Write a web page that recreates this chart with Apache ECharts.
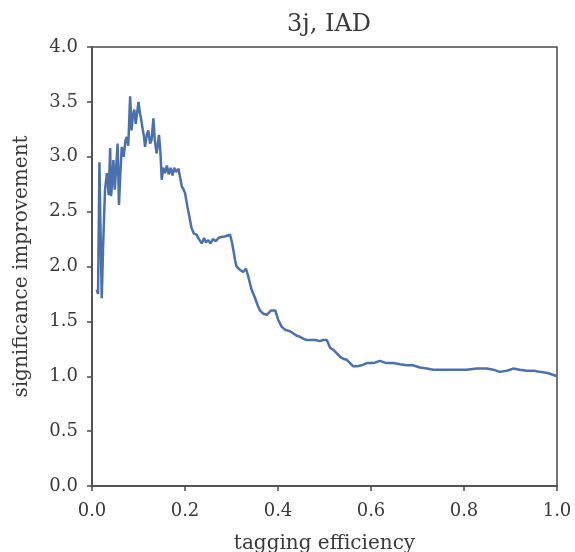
<!DOCTYPE html>
<html>
<head>
<meta charset="utf-8">
<script src="https://cdn.jsdelivr.net/npm/echarts@6/dist/echarts.min.js"></script>
<style>html,body{margin:0;padding:0;background:#fff}#c{width:575px;height:552px}</style>
</head>
<body>
<div id="c"></div>
<script>
const titleText = "3j, IAD";
const xLabel = "tagging efficiency";
const yLabel = "significance improvement";
const xTicks = [0.0, 0.2, 0.4, 0.6, 0.8, 1.0];
const yTicks = [0.0, 0.5, 1.0, 1.5, 2.0, 2.5, 3.0, 3.5, 4.0];
const effX = [0.010,0.013,0.016,0.018,0.021,0.024,0.028,0.032,0.036,0.039,0.041,0.044,0.046,0.049,0.052,0.055,0.058,0.061,0.064,0.068,0.072,0.075,0.078,0.082,0.085,0.088,0.091,0.094,0.096,0.100,0.103,0.105,0.109,0.112,0.114,0.118,0.121,0.125,0.128,0.132,0.135,0.139,0.144,0.147,0.150,0.153,0.157,0.161,0.165,0.169,0.173,0.177,0.181,0.186,0.190,0.193,0.197,0.200,0.205,0.211,0.214,0.219,0.225,0.230,0.236,0.241,0.245,0.250,0.255,0.260,0.266,0.272,0.278,0.283,0.290,0.297,0.301,0.304,0.308,0.311,0.318,0.325,0.331,0.336,0.343,0.350,0.356,0.361,0.368,0.376,0.385,0.394,0.400,0.408,0.417,0.426,0.433,0.440,0.447,0.455,0.462,0.469,0.480,0.490,0.497,0.505,0.512,0.519,0.526,0.533,0.540,0.548,0.555,0.562,0.569,0.580,0.591,0.605,0.619,0.633,0.648,0.662,0.677,0.690,0.705,0.720,0.734,0.750,0.763,0.785,0.806,0.828,0.849,0.863,0.877,0.892,0.906,0.920,0.935,0.950,0.963,0.980,1.000];
const sigImp = [1.79,1.75,2.95,2.40,1.71,2.20,2.70,2.85,2.65,3.08,2.64,2.80,2.97,2.70,2.90,3.12,2.56,2.85,3.09,3.00,3.15,3.18,3.10,3.55,3.24,3.38,3.43,3.30,3.31,3.50,3.40,3.36,3.25,3.18,3.09,3.20,3.24,3.12,3.15,3.35,3.15,3.03,3.20,3.05,2.79,2.90,2.85,2.92,2.84,2.90,2.83,2.90,2.86,2.89,2.80,2.73,2.70,2.67,2.55,2.42,2.35,2.30,2.29,2.25,2.21,2.26,2.22,2.24,2.21,2.25,2.23,2.26,2.27,2.27,2.28,2.29,2.22,2.15,2.05,2.00,1.97,1.95,1.98,1.91,1.79,1.72,1.65,1.60,1.57,1.56,1.60,1.60,1.52,1.45,1.42,1.41,1.39,1.37,1.36,1.34,1.33,1.33,1.33,1.32,1.33,1.33,1.26,1.24,1.21,1.18,1.16,1.15,1.12,1.09,1.09,1.10,1.12,1.12,1.14,1.12,1.12,1.11,1.10,1.10,1.08,1.07,1.06,1.06,1.06,1.06,1.06,1.07,1.07,1.06,1.04,1.05,1.07,1.06,1.05,1.05,1.04,1.03,1.00];

const font = "DejaVu Serif";
const axisCol = "#4a4a4a";
const txtCol = "#3a3a3a";
const chart = echarts.init(document.getElementById('c'), null, {renderer:'canvas'});
chart.setOption({
  animation: false,
  backgroundColor: '#fff',
  title: {text: titleText, left: 324, top: 8, textAlign: 'center',
    textStyle: {fontFamily: font, fontWeight: 'normal', fontSize: 24, color: txtCol}},
  grid: {left: 92, right: 18, top: 47, bottom: 66, containLabel: false, outerBoundsMode: 'none',
    show: true, borderColor: axisCol, borderWidth: 1.5},
  xAxis: {type: 'value', min: xTicks[0], max: xTicks[xTicks.length-1], interval: 0.2,
    name: xLabel, nameLocation: 'middle', nameGap: 48,
    nameTextStyle: {fontFamily: font, fontSize: 20, color: txtCol},
    axisLine: {show: true, lineStyle: {color: axisCol, width: 1.5}},
    axisTick: {show: true, length: 5, lineStyle: {color: axisCol, width: 1.5}},
    splitLine: {show: false},
    axisLabel: {fontFamily: font, fontSize: 18, color: txtCol, margin: 16,
      formatter: v => v.toFixed(1)}},
  yAxis: {type: 'value', min: yTicks[0], max: yTicks[yTicks.length-1], interval: 0.5,
    name: yLabel, nameLocation: 'middle', nameGap: 60,
    nameTextStyle: {fontFamily: font, fontSize: 20, color: txtCol},
    axisLine: {show: true, lineStyle: {color: axisCol, width: 1.5}},
    axisTick: {show: true, length: 5, lineStyle: {color: axisCol, width: 1.5}},
    splitLine: {show: false},
    axisLabel: {fontFamily: font, fontSize: 18, color: txtCol, margin: 14,
      formatter: v => v.toFixed(1)}},
  series: [{type: 'line', showSymbol: false, symbol: 'none',
    data: effX.map((x, i) => [x, sigImp[i]]),
    lineStyle: {color: '#4a70ae', width: 2.5}}]
});
</script>
</body>
</html>
